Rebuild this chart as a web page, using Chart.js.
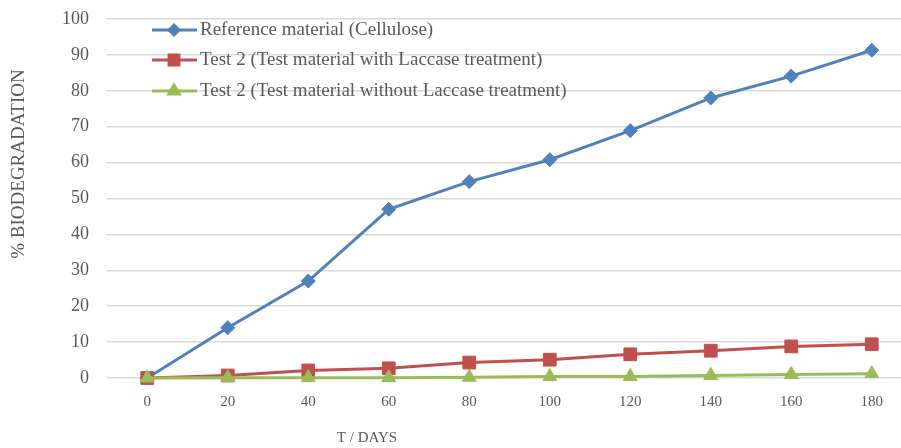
<!DOCTYPE html>
<html>
<head>
<meta charset="utf-8">
<script src="https://cdn.jsdelivr.net/npm/chart.js@4/dist/chart.umd.min.js"></script>
<style>
  html, body { margin: 0; padding: 0; background: #fff; overflow: hidden; }
  #wrap { width: 912px; height: 448px; }
</style>
</head>
<body>
<div id="wrap"><canvas id="bio-chart" width="912" height="448"></canvas></div>
<script>
/* Biodégradation : référence vs matériaux testés */
const DAYS = ['0', '20', '40', '60', '80', '100', '120', '140', '160', '180'];
const CELLULOSE = [0, 14, 27, 47, 54.7, 60.8, 68.9, 78, 84.1, 91.3];
const WITH_LACCASE = [0, 0.7, 2.1, 2.7, 4.3, 5.1, 6.6, 7.6, 8.8, 9.4];
const WITHOUT_LACCASE = [0, 0.1, 0.1, 0.1, 0.2, 0.4, 0.4, 0.7, 1.0, 1.2];
const Y_TICKS = [0, 10, 20, 30, 40, 50, 60, 70, 80, 90, 100];
const X_TITLE = 'T / DAYS';
const Y_TITLE = '% BIODEGRADATION';

const COLORS = {
  blue: '#4F81BD',
  red: '#C0504D',
  green: '#9BBB59',
  grid: '#D9D9D9',
  text: '#595959',
};
const SERIF = "'Liberation Serif', 'DejaVu Serif', serif";

// Légende + titres d'axes placés comme dans Excel
const excelDecor = {
  id: 'excelDecor',
  afterDraw(chart) {
    const ctx = chart.ctx;
    const rows = [30, 60, 91];
    ctx.save();
    chart.data.datasets.forEach((ds, i) => {
      const y = rows[i];
      ctx.strokeStyle = ds.borderColor;
      ctx.lineWidth = 3;
      ctx.beginPath();
      ctx.moveTo(152, y);
      ctx.lineTo(197, y);
      ctx.stroke();
      ctx.fillStyle = ds.backgroundColor;
      ctx.strokeStyle = ds.borderColor;
      Chart.helpers.drawPoint(ctx, {
        pointStyle: ds.pointStyle, radius: ds.pointRadius - 2, rotation: 0, borderWidth: 1
      }, 174, y);
      ctx.fillStyle = COLORS.text;
      ctx.font = '19px ' + SERIF;
      ctx.textBaseline = 'middle';
      ctx.textAlign = 'left';
      ctx.fillText(ds.label, 200, y);
    });

    ctx.fillStyle = COLORS.text;
    ctx.textAlign = 'center';
    ctx.textBaseline = 'middle';
    ctx.font = '15px ' + SERIF;
    ctx.fillText(X_TITLE, 367, 438);

    ctx.translate(19, 164);
    ctx.rotate(-Math.PI / 2);
    ctx.font = '19px ' + SERIF;
    ctx.fillText(Y_TITLE, 0, 0);
    ctx.restore();
  }
};

function series(label, data, color, style, radius, order) {
  return {
    label, data, order,
    borderColor: color,
    backgroundColor: color,
    borderWidth: 3,
    pointStyle: style,
    pointRadius: radius,
    pointHoverRadius: radius,
    pointBorderWidth: 1,
    tension: 0,
    clip: false,
  };
}

new Chart(document.getElementById('bio-chart'), {
  type: 'line',
  data: {
    labels: DAYS,
    datasets: [
      series('Reference material (Cellulose)', CELLULOSE, COLORS.blue, 'rectRot', 7, 2),
      series('Test 2 (Test material with Laccase treatment)', WITH_LACCASE, COLORS.red, 'rect', 9, 1),
      series('Test 2 (Test material without Laccase treatment)', WITHOUT_LACCASE, COLORS.green, 'triangle', 8, 0),
    ]
  },
  options: {
    responsive: false,
    animation: false,
    layout: { autoPadding: false, padding: { top: 19, right: 0, left: 0, bottom: 0 } },
    plugins: { legend: { display: false }, tooltip: { enabled: false } },
    scales: {
      x: {
        offset: true,
        grid: { display: false },
        border: { display: false },
        ticks: { color: COLORS.text, font: { family: SERIF, size: 15 }, padding: 7, maxRotation: 0 },
        afterFit: (s) => { s.height = 70; s.paddingLeft = 0; s.paddingRight = 0; }
      },
      y: {
        min: 0,
        max: 100,
        afterBuildTicks: (s) => { s.ticks = Y_TICKS.map(v => ({ value: v })); },
        grid: { color: COLORS.grid, lineWidth: 1.5, drawTicks: false },
        border: { display: false },
        ticks: { color: COLORS.text, font: { family: SERIF, size: 18 }, padding: 18 },
        afterFit: (s) => { s.width = 107; s.paddingTop = 0; s.paddingBottom = 0; }
      }
    }
  },
  plugins: [excelDecor]
});
</script>
</body>
</html>
